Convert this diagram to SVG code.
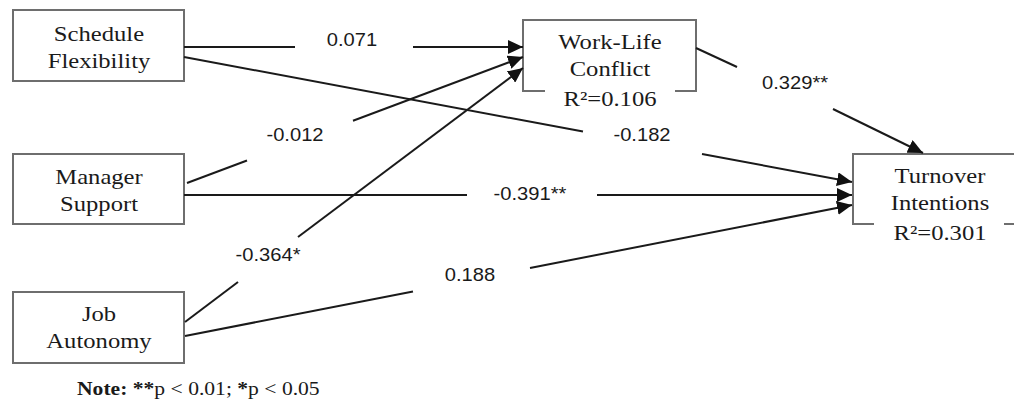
<svg xmlns="http://www.w3.org/2000/svg" width="1014" height="400" viewBox="0 0 1014 400">
<style>
.box{fill:none;stroke:#6e6e6e;stroke-width:2}
.nt{font-family:"Liberation Serif","Times New Roman",serif;font-size:22px;fill:#1a1a1a;text-anchor:middle}
.el{font-family:"Liberation Sans",Arial,sans-serif;font-size:18px;fill:#1a1a1a;text-anchor:middle}
.ln{stroke:#1a1a1a;stroke-width:2;fill:none}
.note{font-family:"Liberation Serif","Times New Roman",serif;font-size:18px;fill:#1a1a1a}
</style>
<defs>
<marker id="ah" markerUnits="userSpaceOnUse" markerWidth="16" markerHeight="14" refX="15" refY="7" orient="auto">
<path d="M0,0 L15,7 L0,14 z" fill="#111"/>
</marker>
</defs>
<rect width="1014" height="400" fill="#fff"/>
<g id="schedule-flexibility">
<rect class="box" x="13" y="10" width="171" height="71"/>
<text class="nt" transform="translate(99,41) scale(1.12,1)">Schedule</text>
<text class="nt" transform="translate(99,68) scale(1.12,1)">Flexibility</text>
</g>
<g id="manager-support">
<rect class="box" x="13" y="154" width="171" height="70"/>
<text class="nt" transform="translate(99,184) scale(1.12,1)">Manager</text>
<text class="nt" transform="translate(99,211) scale(1.12,1)">Support</text>
</g>
<g id="job-autonomy">
<rect class="box" x="13" y="292" width="171" height="71"/>
<text class="nt" transform="translate(99,321) scale(1.12,1)">Job</text>
<text class="nt" transform="translate(99,348) scale(1.12,1)">Autonomy</text>
</g>
<g id="work-life-conflict">
<path class="box" d="M545,91 H523 V20 H696 V91 H675"/>
<text class="nt" transform="translate(610,49) scale(1.12,1)">Work-Life</text>
<text class="nt" transform="translate(610,76) scale(1.12,1)">Conflict</text>
<text class="nt" transform="translate(610,106) scale(1.12,1)">R²=0.106</text>
</g>
<g id="turnover-intentions">
<path class="box" d="M874,224 H853 V154 H1024"/>
<path class="box" d="M1004,224 H1024"/>
<text class="nt" transform="translate(940,183) scale(1.12,1)">Turnover</text>
<text class="nt" transform="translate(940,210) scale(1.12,1)">Intentions</text>
<text class="nt" transform="translate(940,240) scale(1.12,1)">R²=0.301</text>
</g>
<g id="connectors">
<line class="ln" x1="184" y1="47" x2="295" y2="47"/>
<line class="ln" x1="413" y1="47" x2="523" y2="47" marker-end="url(#ah)"/>
<text class="el" transform="translate(352,46) scale(1.12,1)">0.071</text>

<line class="ln" x1="184" y1="57" x2="583" y2="131.6"/>
<line class="ln" x1="702" y1="154" x2="852" y2="182" marker-end="url(#ah)"/>
<text class="el" transform="translate(642,141) scale(1.12,1)">-0.182</text>

<line class="ln" x1="187" y1="183" x2="247" y2="160.5"/>
<line class="ln" x1="353" y1="120.8" x2="523" y2="57" marker-end="url(#ah)"/>
<text class="el" transform="translate(295,141) scale(1.12,1)">-0.012</text>

<line class="ln" x1="184" y1="195" x2="467" y2="195"/>
<line class="ln" x1="597" y1="195" x2="852" y2="195" marker-end="url(#ah)"/>
<text class="el" transform="translate(530,200) scale(1.12,1)">-0.391**</text>

<line class="ln" x1="185" y1="322" x2="238" y2="282"/>
<line class="ln" x1="298" y1="237" x2="523" y2="68" marker-end="url(#ah)"/>
<text class="el" transform="translate(268,261) scale(1.12,1)">-0.364*</text>

<line class="ln" x1="185" y1="336" x2="413" y2="291.5"/>
<line class="ln" x1="530" y1="268" x2="852" y2="205" marker-end="url(#ah)"/>
<text class="el" transform="translate(470,281) scale(1.12,1)">0.188</text>

<line class="ln" x1="696" y1="48" x2="737" y2="67"/>
<line class="ln" x1="833" y1="109" x2="923" y2="153" marker-end="url(#ah)"/>
<text class="el" transform="translate(795,89) scale(1.12,1)">0.329**</text>
</g>
<text class="note" transform="translate(77,395) scale(1.2,1)"><tspan font-weight="bold">Note: **</tspan>p &lt; 0.01; <tspan font-weight="bold">*</tspan>p &lt; 0.05</text>
</svg>
